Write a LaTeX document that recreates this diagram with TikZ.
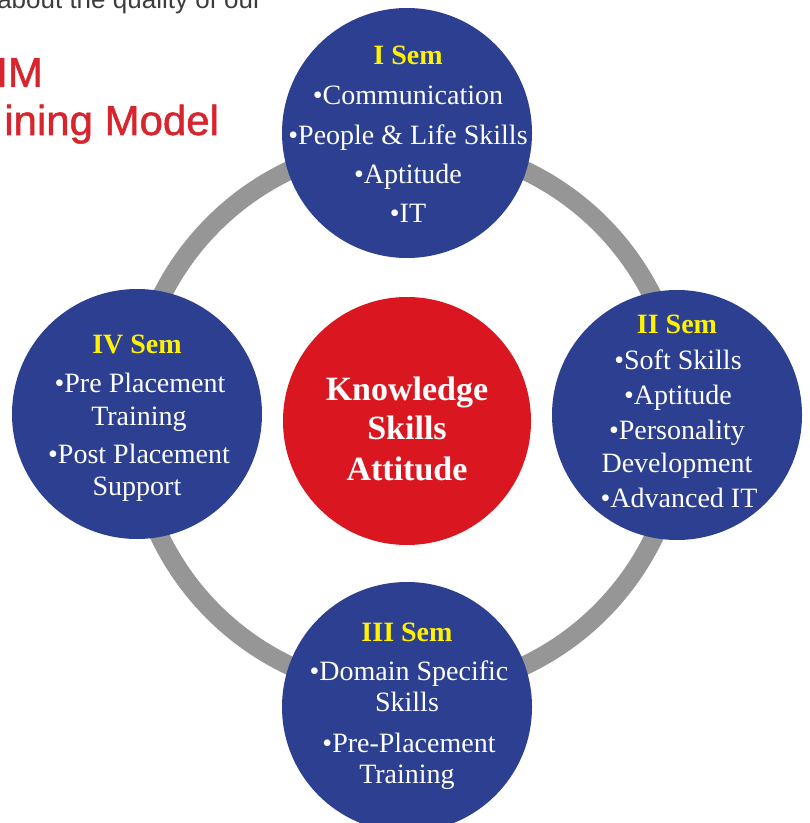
\documentclass[tikz,border=0pt]{standalone}
\usepackage{fontspec}
\setmainfont{Liberation Serif}
\newfontfamily\titlefont{Liberation Sans}
\newfontfamily\titleboldfont[FakeBold=1.2]{Liberation Sans}
\definecolor{semblue}{RGB}{44,63,145}
\definecolor{corered}{RGB}{218,23,33}
\definecolor{ringgray}{RGB}{150,150,150}
\definecolor{semyellow}{RGB}{255,242,0}
\definecolor{titlered}{RGB}{215,36,45}
\definecolor{headgray}{RGB}{60,60,60}
\tikzset{
  semcircle/.style={circle, fill=semblue, minimum size=250*0.75pt, inner sep=0pt, draw=none},
  corecircle/.style={circle, fill=corered, minimum size=248*0.75pt, inner sep=0pt, draw=none},
  ringline/.style={draw=ringgray, line width=19*0.75pt},
  semhead/.style={anchor=base, inner sep=0pt, text=semyellow, font=\fontsize{21}{21}\selectfont\bfseries},
  semitem/.style={anchor=base, inner sep=0pt, text=white, font=\fontsize{21}{21}\selectfont},
  coretext/.style={anchor=base, inner sep=0pt, text=white, font=\fontsize{25.5}{25.5}\selectfont\bfseries},
  toptext/.style={anchor=base west, inner sep=0pt, text=headgray, font=\titlefont\fontsize{19.5}{19.5}\selectfont},
  titletext/.style={anchor=base west, inner sep=0pt, text=titlered, font=\titleboldfont\fontsize{31.5}{31.5}\selectfont}
}
\begin{document}
\begin{tikzpicture}[x=0.75pt,y=-0.75pt]
\useasboundingbox (0,0) rectangle (809,823);
\clip (0,0) rectangle (809,823);
% header fragments
\node[toptext] (hdr) at (-3,9) {about the quality of our};
\node[titletext] (t1) at (-4,87) {IM};
\node[titletext] (t2) at (4,135) {ining Model};
% ring
\coordinate (ringc) at (407,418);
\draw[ringline] (ringc) circle (274);
% circles
\node[semcircle] (s1) at (407,133) {};
\node[semcircle] (s2) at (677,415) {};
\node[semcircle] (s3) at (407,707) {};
\node[semcircle] (s4) at (137,414) {};
\node[corecircle] (core) at (407,421) {};
% I Sem
\node[semhead] (s1h) at (408,65) {I Sem};
\node[semitem] (s1a) at (408,105) {•Communication};
\node[semitem] (s1b) at (408,145) {•People \& Life Skills};
\node[semitem] (s1c) at (408,184) {•Aptitude};
\node[semitem] (s1d) at (408,223) {•IT};
% II Sem
\node[semhead] (s2h) at (677,333) {II Sem};
\node[semitem] (s2a) at (678,369) {•Soft Skills};
\node[semitem] (s2b) at (678,404) {•Aptitude};
\node[semitem] (s2c) at (677,439) {•Personality};
\node[semitem] (s2d) at (677,472) {Development};
\node[semitem] (s2e) at (679,507) {•Advanced IT};
% III Sem
\node[semhead] (s3h) at (407,641) {III Sem};
\node[semitem] (s3a) at (409,680) {•Domain Specific};
\node[semitem] (s3b) at (407,711) {Skills};
\node[semitem] (s3c) at (409,752) {•Pre-Placement};
\node[semitem] (s3d) at (407,783) {Training};
% IV Sem
\node[semhead] (s4h) at (137,353) {IV Sem};
\node[semitem] (s4a) at (140,392) {•Pre Placement};
\node[semitem] (s4b) at (139,425) {Training};
\node[semitem] (s4c) at (139,463) {•Post Placement};
\node[semitem] (s4d) at (137,495) {Support};
% core
\node[coretext] (k1) at (407,400) {Knowledge};
\node[coretext] (k2) at (407,439) {Skills};
\node[coretext] (k3) at (407,480) {Attitude};
\end{tikzpicture}
\end{document}
